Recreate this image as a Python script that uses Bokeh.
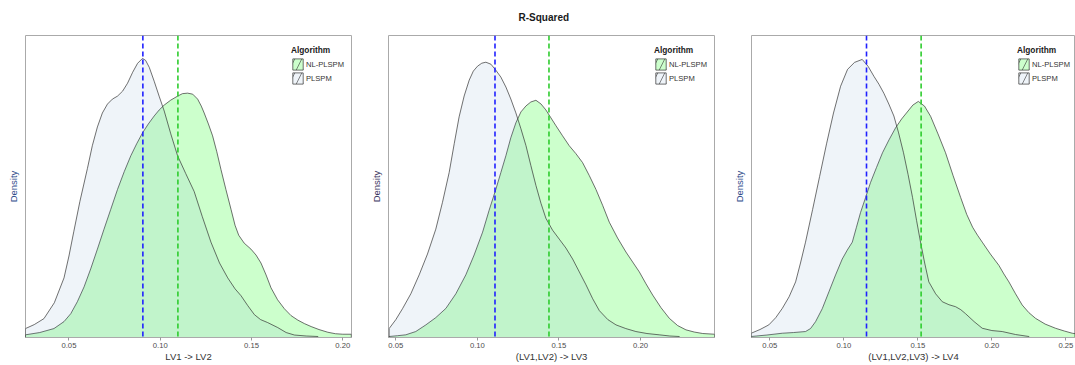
from bokeh.plotting import figure
from bokeh.layouts import row
from bokeh.models import Range1d, Span, Legend, LegendItem, FixedTicker, NumeralTickFormatter
from bokeh.embed import file_html
from bokeh.resources import INLINE

TITLE = "R-Squared"
ALGORITHMS = ["NL-PLSPM", "PLSPM"]
X_LABELS = ["LV1 -> LV2", "(LV1,LV2) -> LV3", "(LV1,LV2,LV3) -> LV4"]
X_TICKS = [[0.05, 0.10, 0.15, 0.20], [0.05, 0.10, 0.15, 0.20], [0.05, 0.10, 0.15, 0.20, 0.25]]

# density curves (x = R-squared, y = relative density; y axis carries no scale)
nl_x_1 = [0.0262, 0.0340, 0.0418, 0.0473, 0.0510, 0.0546, 0.0583, 0.0619, 0.0656, 0.0692, 0.0729,
          0.0766, 0.0803, 0.0839, 0.0871, 0.0903, 0.0935, 0.0967, 0.0994, 0.1022, 0.1058, 0.1095,
          0.1122, 0.1150, 0.1178, 0.1205, 0.1225, 0.1241, 0.1264, 0.1287, 0.1310, 0.1333, 0.1360,
          0.1388, 0.1410, 0.1430, 0.1460, 0.1497, 0.1525, 0.1552, 0.1580, 0.1607, 0.1643, 0.1680,
          0.1717, 0.1754, 0.1790, 0.1827, 0.1870, 0.1918, 0.1960, 0.2000, 0.2047]
nl_d_1 = [2.7, 5, 9, 16, 24, 36, 51, 69, 89, 109, 129,
          149, 167, 183, 195, 206, 215, 223, 229, 234, 239, 243,
          245.5, 246, 245, 240, 233, 226, 215, 203, 187, 169, 149,
          129, 113, 103, 95, 89, 83, 75, 63, 50, 38, 29,
          22, 17.5, 14, 11, 8, 5.3, 3.8, 3.3, 3.3]
pl_x_1 = [0.0262, 0.0310, 0.0363, 0.0420, 0.0473, 0.0500, 0.0527, 0.0560, 0.0601, 0.0628, 0.0656,
          0.0683, 0.0711, 0.0738, 0.0766, 0.0794, 0.0821, 0.0849, 0.0876, 0.0903, 0.0920, 0.0940,
          0.0967, 0.0994, 0.1022, 0.1058, 0.1095, 0.1140, 0.1186, 0.1230, 0.1278, 0.1325, 0.1370,
          0.1410, 0.1443, 0.1480, 0.1516, 0.1550, 0.1589, 0.1644, 0.1690, 0.1735, 0.1800, 0.1864]
pl_d_1 = [9, 13, 19, 35, 60, 82, 107, 137, 170, 193, 212,
          226, 235, 240, 243, 248, 256, 267, 276, 281, 279, 272,
          258, 243, 228, 205, 183, 165, 147, 122, 96, 75, 60,
          49, 42, 32, 23, 18, 15, 10, 5, 2.5, 1.5, 1]

nl_x_2 = [0.0459, 0.0510, 0.0561, 0.0622, 0.0684, 0.0745, 0.0807, 0.0868, 0.0929, 0.0980, 0.1032,
          0.1072, 0.1113, 0.1144, 0.1175, 0.1205, 0.1236, 0.1267, 0.1298, 0.1328, 0.1359, 0.1390,
          0.1420, 0.1451, 0.1482, 0.1522, 0.1563, 0.1604, 0.1645, 0.1686, 0.1727, 0.1768, 0.1809,
          0.1860, 0.1911, 0.1952, 0.1993, 0.2034, 0.2075, 0.2126, 0.2177, 0.2228, 0.2279, 0.2330,
          0.2382, 0.2454]
nl_d_2 = [1, 1.8, 2.7, 6, 12.7, 20, 29.3, 44, 63, 83, 106,
          128, 149, 166, 183, 201, 216, 227, 233, 237, 238.7, 235,
          229, 221, 213, 203, 193, 185, 176, 163, 149, 133, 116,
          100, 86, 76, 66, 54, 42.7, 30, 19.3, 12, 7.7, 5.5,
          4, 3.3]
pl_x_2 = [0.0459, 0.0500, 0.0541, 0.0592, 0.0643, 0.0694, 0.0745, 0.0786, 0.0827, 0.0858, 0.0888,
          0.0919, 0.0950, 0.0975, 0.1001, 0.1027, 0.1052, 0.1083, 0.1113, 0.1144, 0.1175, 0.1205,
          0.1236, 0.1267, 0.1298, 0.1328, 0.1359, 0.1390, 0.1420, 0.1461, 0.1502, 0.1543, 0.1584,
          0.1625, 0.1666, 0.1707, 0.1748, 0.1800, 0.1850, 0.1910, 0.1972, 0.2040, 0.2115, 0.2180,
          0.2238]
pl_d_2 = [9, 18, 29, 44, 63, 84, 109, 136, 166, 195, 222,
          243, 259, 268, 273, 276, 277, 275, 269, 262, 252, 240,
          226, 210, 193, 173, 153, 135, 120, 108, 99, 90, 79,
          66, 53, 39, 27, 18, 12.7, 9, 6, 4, 2.7, 1.5,
          1]

nl_x_3 = [0.0374, 0.0480, 0.0584, 0.0660, 0.0741, 0.0775, 0.0809, 0.0854, 0.0899, 0.0944, 0.0989,
          0.1023, 0.1057, 0.1085, 0.1113, 0.1147, 0.1180, 0.1220, 0.1261, 0.1305, 0.1349, 0.1390,
          0.1428, 0.1466, 0.1503, 0.1545, 0.1586, 0.1636, 0.1687, 0.1738, 0.1789, 0.1830, 0.1870,
          0.1903, 0.1935, 0.1990, 0.2047, 0.2081, 0.2115, 0.2160, 0.2205, 0.2250, 0.2295, 0.2360,
          0.2430, 0.2490, 0.2543, 0.2600]
nl_d_3 = [1, 2.5, 4.3, 5, 6, 9, 16, 29, 46, 63, 79,
          88, 96, 111, 126, 141, 156, 171, 186, 199, 211, 220,
          227, 234, 237.7, 233, 222.7, 205, 186, 163, 141, 124, 111,
          103, 96, 84, 72.7, 64, 56, 44, 32.7, 25, 19.3, 13.5,
          9.3, 6.5, 4.3, 3]
pl_x_3 = [0.0374, 0.0433, 0.0493, 0.0540, 0.0584, 0.0630, 0.0674, 0.0707, 0.0741, 0.0789, 0.0836,
          0.0883, 0.0930, 0.0978, 0.1025, 0.1072, 0.1124, 0.1164, 0.1203, 0.1237, 0.1270, 0.1304,
          0.1338, 0.1370, 0.1403, 0.1434, 0.1464, 0.1491, 0.1518, 0.1546, 0.1574, 0.1620, 0.1665,
          0.1710, 0.1755, 0.1790, 0.1822, 0.1880, 0.1935, 0.2000, 0.2070, 0.2160, 0.2250]
pl_d_3 = [4.3, 8, 12.7, 20, 29.3, 41, 56, 75, 96, 129, 162,
          195, 226, 253, 270, 277, 280, 273, 263, 255, 246, 235,
          223, 206, 186, 164, 141, 118, 96, 75, 56, 44, 36,
          33, 31, 28, 24, 16, 9.3, 7, 6, 3, 1]

# mean R-squared per algorithm (dashed lines)
MEAN_NL = [0.1097, 0.1439, 0.1522]
MEAN_PL = [0.0905, 0.1108, 0.1153]

X_RANGES = [(0.0262, 0.2048), (0.0455, 0.2454), (0.0376, 0.2565)]
Y_TOP = [1.082, 1.097, 1.086]

NL_X = [nl_x_1, nl_x_2, nl_x_3]
NL_D = [nl_d_1, nl_d_2, nl_d_3]
PL_X = [pl_x_1, pl_x_2, pl_x_3]
PL_D = [pl_d_1, pl_d_2, pl_d_3]

FONT = "Liberation Sans"
WIDTHS = [364, 362, 349]
BORDER_L = [25, 24, 25]
BORDER_R = [13, 12, 0]
YLAB_COLORS = ["#2e4a8a", "#3a3560", "#2e4a8a"]
NL_FILL, PL_FILL = "#00ff00", "#6496c8"
NAN = float("nan")


def closed(xs, ds):
    return [xs[0]] + list(xs) + [xs[-1]], [0.0] + list(ds) + [0.0]


figs = []
for i in range(3):
    ymax = max(max(NL_D[i]), max(PL_D[i]))
    p = figure(width=WIDTHS[i], height=365, output_backend="svg", toolbar_location=None,
               x_range=Range1d(*X_RANGES[i]), y_range=Range1d(0, ymax * Y_TOP[i]),
               min_border_left=BORDER_L[i], min_border_right=BORDER_R[i],
               min_border_top=33, min_border_bottom=28)
    p.background_fill_color = "white"
    p.border_fill_color = "white"
    p.outline_line_color = "#aaaaaa"
    p.outline_line_width = 1
    p.xgrid.visible = False
    p.ygrid.visible = False

    nx, ny = closed(NL_X[i], NL_D[i])
    r_nl = p.patch(nx, ny, fill_color=NL_FILL, fill_alpha=0.2,
                   line_color="#333333", line_width=0.7)
    px_, py_ = closed(PL_X[i], PL_D[i])
    r_pl = p.patch(px_, py_, fill_color=PL_FILL, fill_alpha=0.1,
                   line_color="#333333", line_width=0.7)

    p.add_layout(Span(location=MEAN_PL[i], dimension="height", line_color="#2020ff",
                      line_dash="5 3", line_width=1.6))
    p.add_layout(Span(location=MEAN_NL[i], dimension="height", line_color="#2ecc2e",
                      line_dash="5 3", line_width=1.6))

    # legend key slash (hatch only, nothing drawn in the plot area)
    k_nl = p.patch([NAN], [NAN], fill_alpha=0, line_alpha=0, hatch_pattern="/",
                   hatch_scale=14, hatch_color="#333333", hatch_weight=0.6)
    k_pl = p.patch([NAN], [NAN], fill_alpha=0, line_alpha=0, hatch_pattern="/",
                   hatch_scale=14, hatch_color="#333333", hatch_weight=0.6)

    legend = Legend(items=[LegendItem(label=ALGORITHMS[0], renderers=[r_nl, k_nl]),
                           LegendItem(label=ALGORITHMS[1], renderers=[r_pl, k_pl])],
                    title="Algorithm", location=(266, 252))
    legend.title_text_font = FONT
    legend.title_text_font_style = "bold"
    legend.title_text_font_size = "8.3px"
    legend.title_text_color = "#1a1a1a"
    legend.title_standoff = 2
    legend.label_text_font = FONT
    legend.label_text_font_size = "7.6px"
    legend.label_text_color = "#333333"
    legend.label_standoff = 2
    legend.label_height = 14
    legend.glyph_width = 13
    legend.glyph_height = 14
    legend.spacing = 0
    legend.padding = 0
    legend.margin = 0
    legend.border_line_color = None
    legend.background_fill_alpha = 0
    p.add_layout(legend)

    xa = p.xaxis[0]
    xa.ticker = FixedTicker(ticks=X_TICKS[i])
    xa.formatter = NumeralTickFormatter(format="0.00")
    xa.axis_label = X_LABELS[i]
    xa.axis_label_text_font = FONT
    xa.axis_label_text_font_size = "9.5px"
    xa.axis_label_text_font_style = "normal"
    xa.axis_label_text_color = "#333333"
    xa.axis_label_standoff = 0
    xa.major_label_text_font = FONT
    xa.major_label_text_font_size = "7.7px"
    xa.major_label_text_color = "#4d4d4d"
    xa.major_label_standoff = 2
    xa.major_tick_in = 0
    xa.major_tick_out = 3
    xa.major_tick_line_color = "#999999"
    xa.minor_tick_line_color = None
    xa.axis_line_color = "#aaaaaa"

    ya = p.yaxis[0]
    ya.ticker = FixedTicker(ticks=[])
    ya.major_tick_line_color = None
    ya.minor_tick_line_color = None
    ya.axis_line_color = None
    ya.major_label_standoff = 0
    ya.axis_label = "Density"
    ya.axis_label_text_font = FONT
    ya.axis_label_text_font_size = "9.5px"
    ya.axis_label_text_font_style = "normal"
    ya.axis_label_text_color = YLAB_COLORS[i]
    ya.axis_label_standoff = 7

    if i == 1:
        p.title.text = TITLE
        p.title.align = "left"
        p.title.offset = 130
        p.title.text_font = FONT
        p.title.text_font_size = "10px"
        p.title.text_font_style = "bold"
        p.title.text_color = "#1a1a1a"
        p.title.vertical_align = "top"
        p.title.standoff = 22
    figs.append(p)

layout = row(*figs)
open("out.html", "w").write(file_html(layout, INLINE))
